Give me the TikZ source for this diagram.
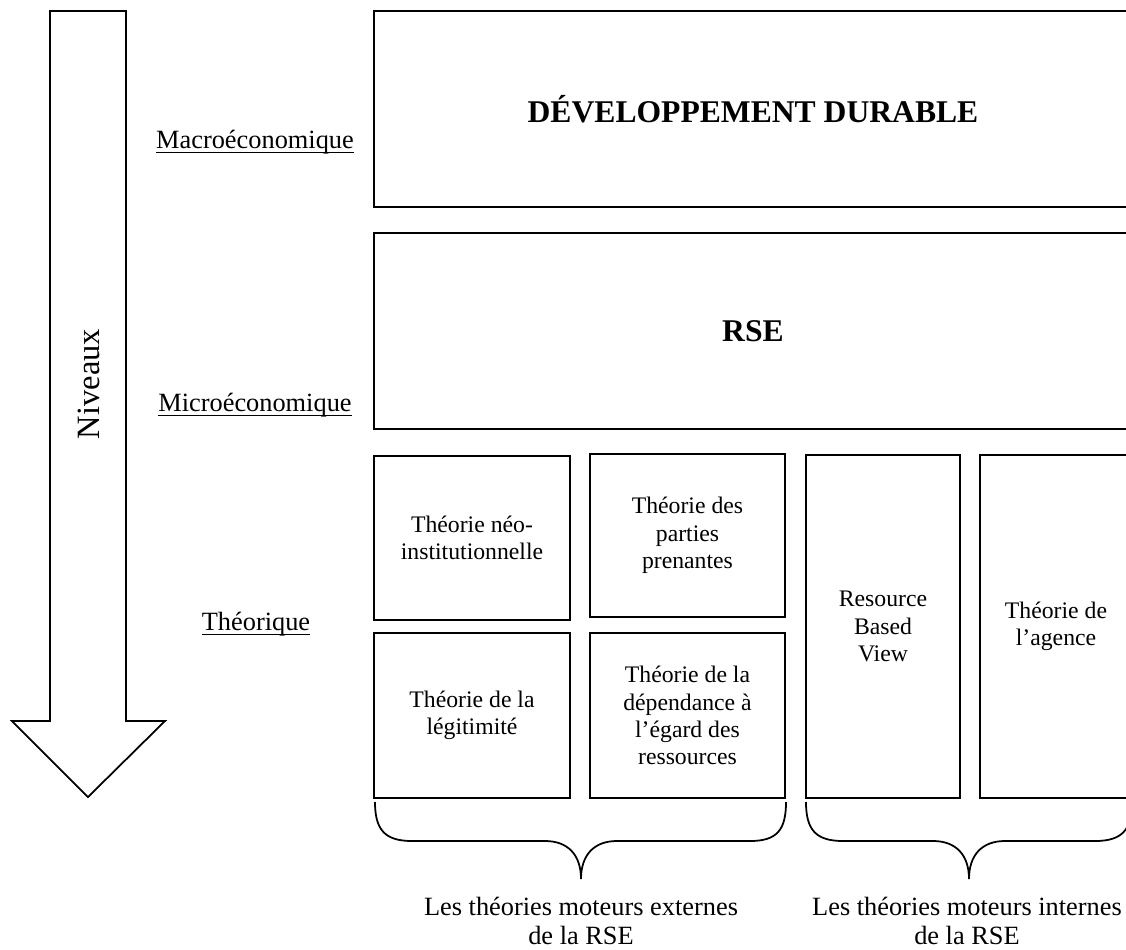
\documentclass[tikz,border=0pt]{standalone}
\usepackage{fontspec}
\setmainfont{Liberation Serif}
\usepackage{tikz}

\newsavebox{\lvlbox}
\newcommand{\lvltxt}[1]{\sbox{\lvlbox}{#1}\rlap{\rule[-2.5pt]{\wd\lvlbox}{0.5pt}}\usebox{\lvlbox}}

\begin{document}
\begin{tikzpicture}[x=0.02cm,y=-0.02cm,line width=1pt,
    box/.style={draw,align=center,inner sep=0pt,font=\fontsize{13.5}{15.5}\selectfont},
    lvl/.style={anchor=base,font=\fontsize{15}{18}\selectfont},
    captxt/.style={align=center,font=\fontsize{15}{16}\selectfont}]
    \useasboundingbox (0,0) rectangle (1126,950);
    % big arrow
    \draw (50,11) -- (126,11) -- (126,721) -- (165,721) -- (88,797) -- (12,721) -- (50,721) -- cycle;
    \node[rotate=90,font=\fontsize{18.5}{20}\selectfont] (niv) at (89,384) {Niveaux};
    \node[lvl] (macro) at (255,148) {\lvltxt{Macroéconomique}};
    \node[lvl] (micro) at (255,411) {\lvltxt{Microéconomique}};
    \node[lvl] (theo) at (256,630) {\lvltxt{Théorique}};
    % levels
    \node[box,minimum width=15.16cm,minimum height=3.92cm,font=\fontsize{18}{20}\selectfont\bfseries] (dd) at (753,109) {DÉVELOPPEMENT DURABLE};
    \node[box,minimum width=15.16cm,minimum height=3.92cm,font=\fontsize{18}{20}\selectfont\bfseries] (rse) at (753,331) {RSE};
    \node[box,minimum width=3.92cm,minimum height=3.28cm] (neo) at (472,538) {Théorie néo-\\institutionnelle};
    \node[box,minimum width=3.9cm,minimum height=3.26cm] (pp) at (687.5,535.5) {Théorie des\\parties\\prenantes};
    \node[box,minimum width=3.92cm,minimum height=3.3cm] (leg) at (472,715.5) {Théorie de la\\légitimité};
    \node[box,minimum width=3.9cm,minimum height=3.3cm] (dep) at (687.5,715.5) {Théorie de la\\dépendance à\\l’égard des\\ressources};
    \node[box,minimum width=3.08cm,minimum height=6.86cm] (rbv) at (883,626.5) {Resource\\Based\\View};
    \node[box,minimum width=3.04cm,minimum height=6.86cm] (ag) at (1056,626.5) {Théorie de\\l’agence};
    % braces
    \draw (375,802) .. controls (375,830) and (385,841) .. (412,841) -- (545,841)
        .. controls (568,841) and (581,855) .. (581,879)
        .. controls (581,855) and (594,841) .. (617,841) -- (750,841)
        .. controls (777,841) and (786,830) .. (786,802);
    \draw (806,802) .. controls (806,830) and (816,841) .. (843,841) -- (933,841)
        .. controls (956,841) and (969,855) .. (969,879)
        .. controls (969,855) and (982,841) .. (1005,841) -- (1095,841)
        .. controls (1122,841) and (1132,830) .. (1132,802);
    \node[captxt] (ext) at (581,921) {Les théories moteurs externes\\de la RSE};
    \node[captxt] (int) at (967,921) {Les théories moteurs internes\\de la RSE};
\end{tikzpicture}
\end{document}
